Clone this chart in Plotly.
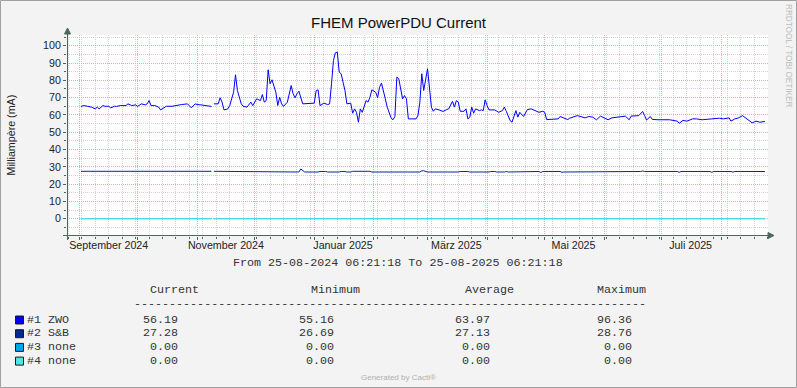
import plotly.graph_objects as go

# ---------------- data ----------------
TITLE = "FHEM PowerPDU Current"
Y_TITLE = "Milliampère (mA)"
X_START = "2024-08-25 06:21:18"
X_END = "2025-08-25 06:21:18"
PERIOD_TEXT = "From 25-08-2024 06:21:18 To 25-08-2025 06:21:18"

month_label_dates = ["2024-09-16", "2024-11-16", "2025-01-16", "2025-03-16", "2025-05-16", "2025-07-16"]
month_labels = ["September 2024", "November 2024", "Januar 2025", "März 2025", "Mai 2025", "Juli 2025"]
y_ticks = [0, 10, 20, 30, 40, 50, 60, 70, 80, 90, 100]
y_minor = [-5, 5, 15, 25, 35, 45, 55, 65, 75, 85, 95, 105]

zwo_dates = [
    "2024-09-01 12:00", "2024-09-03", "2024-09-05", "2024-09-07", "2024-09-09", "2024-09-10", "2024-09-11",
    "2024-09-13", "2024-09-14", "2024-09-16", "2024-09-17", "2024-09-19", "2024-09-20", "2024-09-22",
    "2024-09-25", "2024-09-26", "2024-09-28", "2024-09-30",
    "2024-10-01", "2024-10-03", "2024-10-05", "2024-10-06", "2024-10-07", "2024-10-08", "2024-10-10",
    "2024-10-12", "2024-10-13", "2024-10-15", "2024-10-16", "2024-10-19", "2024-10-22", "2024-10-24",
    "2024-10-27", "2024-10-28", "2024-10-29", "2024-10-31",
    "2024-11-01", "2024-11-03", "2024-11-05", "2024-11-08 12:00", "2024-11-09 06:00", "2024-11-09 18:00",
    "2024-11-12", "2024-11-13", "2024-11-14", "2024-11-15", "2024-11-17", "2024-11-18", "2024-11-19",
    "2024-11-20", "2024-11-21", "2024-11-22", "2024-11-24", "2024-11-25", "2024-11-27", "2024-11-29",
    "2024-11-30",
    "2024-12-02", "2024-12-04", "2024-12-05", "2024-12-06", "2024-12-07", "2024-12-08", "2024-12-09",
    "2024-12-10", "2024-12-12", "2024-12-13", "2024-12-14", "2024-12-15", "2024-12-16", "2024-12-18",
    "2024-12-20", "2024-12-21", "2024-12-22", "2024-12-23", "2024-12-24", "2024-12-26", "2024-12-29",
    "2025-01-01", "2025-01-02", "2025-01-03", "2025-01-04", "2025-01-06", "2025-01-08", "2025-01-09",
    "2025-01-10", "2025-01-11", "2025-01-12", "2025-01-13", "2025-01-14", "2025-01-15", "2025-01-16",
    "2025-01-17", "2025-01-18", "2025-01-20", "2025-01-21", "2025-01-22", "2025-01-23", "2025-01-24",
    "2025-01-25", "2025-01-26", "2025-01-28", "2025-01-29", "2025-01-30", "2025-01-31",
    "2025-02-02", "2025-02-03", "2025-02-04", "2025-02-05", "2025-02-07", "2025-02-08", "2025-02-10",
    "2025-02-11", "2025-02-12", "2025-02-13", "2025-02-14", "2025-02-15", "2025-02-16", "2025-02-17",
    "2025-02-18", "2025-02-19", "2025-02-23", "2025-02-24", "2025-02-25", "2025-02-26", "2025-02-27",
    "2025-03-01", "2025-03-02", "2025-03-03", "2025-03-04", "2025-03-05", "2025-03-07", "2025-03-09",
    "2025-03-11", "2025-03-12", "2025-03-14", "2025-03-15", "2025-03-16", "2025-03-17", "2025-03-18",
    "2025-03-20", "2025-03-21", "2025-03-22", "2025-03-23", "2025-03-24", "2025-03-25", "2025-03-26",
    "2025-03-28", "2025-03-29", "2025-03-30", "2025-03-31",
    "2025-04-01", "2025-04-02", "2025-04-05", "2025-04-07", "2025-04-09", "2025-04-10", "2025-04-11",
    "2025-04-13", "2025-04-14", "2025-04-15", "2025-04-16", "2025-04-17", "2025-04-18", "2025-04-20",
    "2025-04-21", "2025-04-22", "2025-04-24", "2025-04-25", "2025-04-26", "2025-04-28", "2025-04-30",
    "2025-05-01", "2025-05-02", "2025-05-05", "2025-05-08", "2025-05-09", "2025-05-11", "2025-05-13",
    "2025-05-14", "2025-05-16", "2025-05-18", "2025-05-22", "2025-05-24", "2025-05-26", "2025-05-28",
    "2025-05-30",
    "2025-06-01", "2025-06-03", "2025-06-05", "2025-06-08", "2025-06-12", "2025-06-14", "2025-06-15",
    "2025-06-19", "2025-06-21", "2025-06-22", "2025-06-23", "2025-06-25", "2025-06-26", "2025-06-29",
    "2025-07-05", "2025-07-09", "2025-07-10", "2025-07-12", "2025-07-14", "2025-07-17", "2025-07-19",
    "2025-07-22", "2025-07-25", "2025-07-27", "2025-07-31",
    "2025-08-02", "2025-08-05", "2025-08-06", "2025-08-08", "2025-08-10", "2025-08-12", "2025-08-14",
    "2025-08-16", "2025-08-17", "2025-08-19", "2025-08-21", "2025-08-23 16:00",
]
zwo_values = [
    64.9, 65.4, 65.0, 64.5, 63.5, 64.5, 63.5,
    65.4, 65.0, 65.0, 64.1, 65.0, 64.9, 65.4,
    65.4, 66.4, 65.4, 65.8,
    64.9, 66.4, 65.8, 66.4, 68.3, 65.4, 65.4,
    64.5, 62.9, 64.5, 65.0, 65.0, 65.8, 66.0,
    66.4, 65.0, 64.1, 66.4,
    66.0, 65.8, 65.4, 64.9, None, 66.4,
    66.4, 69.9, 67.4, 62.9, 63.5, 65.4, 70.2,
    73.1, 83.2, 74.1, 66.4, 65.0, 64.5, 67.4,
    65.4,
    69.3, 68.3, 71.8, 67.4, 68.3, 86.1, 78.0,
    80.3, 73.1, 65.4, 70.2, 66.4, 64.9, 67.4,
    77.0, 72.2, 69.9, 72.2, 73.7, 66.4, 66.4,
    66.8, 74.1, 74.5, 65.4, 66.8, 66.0, 66.4,
    78.0, 91.5, 95.9, 96.36, 84.7, 83.8, 78.9,
    74.1, 66.4, 66.8, 61.0, 63.5, 61.5, 55.8,
    63.5, 61.5, 68.3, 67.4, 70.2, 74.5,
    73.1, 69.9, 76.0, 78.4, 69.3, 64.5, 58.3,
    57.2, 59.1, 81.8, 80.9, 75.1, 69.3, 71.2,
    69.3, 57.7, 57.7, 59.6, 67.4, 83.8, 74.1,
    86.7, 73.1, 64.5, 62.1, 63.5, 62.9, 62.0,
    63.1, 63.5, 67.9, 64.5, 68.3, 67.4, 62.1,
    62.1, 63.5, 57.7, 58.7, 64.5, 61.0, 63.5,
    62.5, 62.9, 62.5, 68.7,
    65.4, 62.9, 62.9, 61.5, 62.5, 64.5, 62.1,
    56.7, 55.8, 58.7, 62.5, 58.7, 61.5, 59.1,
    61.5, 63.1, 63.5, 62.9, 62.5, 61.5, 62.1,
    61.5, 57.3, 57.7, 57.7, 59.1, 58.3, 57.3,
    58.1, 58.7, 59.6, 58.3, 59.1, 58.7, 57.2,
    59.3,
    58.3, 57.2, 58.3, 58.7, 59.3, 57.2, 59.3,
    59.6, 62.0, 59.6, 57.0, 59.1, 57.4, 57.2,
    57.2, 56.4, 55.16, 56.8, 56.4, 57.7, 57.7,
    57.2, 57.7, 57.7, 58.1,
    57.7, 58.3, 56.4, 57.7, 58.3, 59.6, 57.7,
    55.8, 55.4, 56.4, 55.8, 56.19,
]

sb_dates = [
    "2024-09-01 12:00", "2024-09-07", "2024-09-08", "2024-09-13", "2024-09-14", "2024-09-17", "2024-09-18",
    "2024-09-21", "2024-09-22", "2024-09-26", "2024-09-27", "2024-09-29", "2024-09-30", "2024-10-08",
    "2024-10-09", "2024-10-12", "2024-10-13", "2024-10-15", "2024-10-16", "2024-10-18", "2024-10-19",
    "2024-11-08 12:00", "2024-11-09 06:00", "2024-11-09 18:00", "2024-11-14", "2024-11-15", "2024-11-22",
    "2024-11-23", "2024-11-26", "2024-11-27", "2024-11-29", "2024-11-30", "2024-12-03", "2024-12-04",
    "2024-12-10", "2024-12-11", "2024-12-14", "2024-12-15", "2024-12-24", "2024-12-25", "2024-12-27",
    "2025-01-03", "2025-01-04", "2025-01-07", "2025-01-08", "2025-01-14", "2025-01-15", "2025-01-17",
    "2025-01-18", "2025-01-20", "2025-01-21", "2025-01-30", "2025-01-31", "2025-02-25", "2025-02-26",
    "2025-02-27", "2025-03-01", "2025-03-17", "2025-03-18", "2025-03-22", "2025-03-23", "2025-04-02",
    "2025-04-03", "2025-04-05", "2025-04-06", "2025-04-10", "2025-04-11", "2025-04-12", "2025-04-15",
    "2025-04-16", "2025-04-28", "2025-04-29", "2025-04-30", "2025-05-09", "2025-05-10", "2025-05-11",
    "2025-05-15", "2025-05-16", "2025-06-20", "2025-06-21", "2025-06-22", "2025-07-09", "2025-07-10",
    "2025-07-11", "2025-07-26", "2025-07-27", "2025-07-28", "2025-08-06", "2025-08-07", "2025-08-08",
    "2025-08-23 16:00",
]
sb_values = [
    27.4, 27.4, 27.0, 27.0, 27.3, 27.3, 27.0,
    27.0, 27.3, 27.3, 27.0, 27.0, 27.4, 27.4,
    27.0, 27.0, 27.3, 27.3, 27.0, 27.0, 27.4,
    27.4, None, 27.4, 27.4, 27.0, 27.0,
    27.3, 27.3, 27.0, 27.0, 27.3, 27.3, 27.0,
    27.0, 27.3, 27.3, 27.0, 27.0, 28.76, 27.0,
    27.0, 27.3, 27.3, 27.0, 27.0, 27.3, 27.3,
    27.0, 27.0, 27.4, 27.4, 27.0, 27.0, 27.7,
    27.7, 27.0, 27.0, 27.3, 27.3, 27.0, 27.0,
    27.3, 27.3, 27.0, 27.0, 27.3, 27.0, 27.0,
    27.3, 27.3, 26.69, 27.3, 27.3, 26.8, 27.0,
    27.0, 27.3, 27.3, 27.6, 27.3, 27.3, 26.8,
    27.3, 27.3, 26.8, 27.3, 27.3, 26.9, 27.3,
    27.28,
]

none_dates = ["2024-09-01 12:00", "2024-11-08 12:00", "2024-11-09 06:00", "2024-11-09 18:00", "2025-08-23 16:00"]
none3_values = [0.0, 0.0, None, 0.0, 0.0]
none4_values = [0.0, 0.0, None, 0.0, 0.0]

legend_names = ["#1 ZWO", "#2 S&B", "#3 none", "#4 none"]
legend_colors = ["#0000FF", "#002A97", "#00A6F0", "#4FE6E6"]
stat_headers = ["Current", "Minimum", "Average", "Maximum"]
stat_current = [56.19, 27.28, 0.00, 0.00]
stat_minimum = [55.16, 26.69, 0.00, 0.00]
stat_average = [63.97, 27.13, 0.00, 0.00]
stat_maximum = [96.36, 28.76, 0.00, 0.00]

# ---------------- geometry / style ----------------
W, H = 797, 388
PL, PR, PT, PB = 67, 768, 35, 236


def px(x):
    return (x - PL) / (PR - PL)


def py(y):
    return (PB - y) / (PB - PT)


BG = "#F3F3F3"
AXC = "#4D6659"
MAJ = "#EFA8A8"
MIN = "#D2D2D2"
TXT = "#222222"
LEG = "#333333"
SANS = "Liberation Sans"
MONO = "Liberation Mono"
DOT = "1px,1px"
MONO_SIZE = 11.7

fig = go.Figure()
series = [
    (zwo_dates, zwo_values, legend_colors[0], "x"),
    (sb_dates, sb_values, legend_colors[1], "x"),
    (none_dates, none3_values, legend_colors[2], "x"),
    (none_dates, none4_values, legend_colors[3], "x2"),
]
for xs, ys, col, xa in series:
    fig.add_trace(go.Scatter(x=xs, y=ys, mode="lines", line=dict(color=col, width=1), xaxis=xa,
                             connectgaps=False, hoverinfo="skip", showlegend=False))

shapes = []
# canvas border
shapes.append(dict(type="rect", xref="paper", yref="paper", x0=px(0.5), x1=px(W - 0.5),
                   y0=py(0.5), y1=py(H - 0.5), line=dict(color="#A0A0A0", width=1), layer="below"))
# axes with arrows
shapes.append(dict(type="line", xref="paper", yref="paper", x0=px(67.5), x1=px(67.5),
                   y0=py(240), y1=py(32), line=dict(color=AXC, width=1)))
shapes.append(dict(type="path", xref="paper", yref="paper",
                   path=f"M {px(64.5)} {py(34)} L {px(67.5)} {py(28)} L {px(70.5)} {py(34)} Z",
                   fillcolor=AXC, line=dict(color=AXC, width=1)))
shapes.append(dict(type="line", xref="paper", yref="paper", x0=px(63), x1=px(770),
                   y0=py(235.5), y1=py(235.5), line=dict(color=AXC, width=1)))
shapes.append(dict(type="path", xref="paper", yref="paper",
                   path=f"M {px(768)} {py(232.5)} L {px(774)} {py(235.5)} L {px(768)} {py(238.5)} Z",
                   fillcolor=AXC, line=dict(color=AXC, width=1)))

ann = []
ann.append(dict(text=TITLE, x=px(398.5), y=py(22.8), xref="paper", yref="paper", showarrow=False,
                xanchor="center", yanchor="middle", font=dict(family=SANS, size=15, color="#111111")))
ann.append(dict(text=Y_TITLE, x=px(10.5), y=py(135), xref="paper", yref="paper", showarrow=False,
                textangle=-90, xanchor="center", yanchor="middle", font=dict(family=SANS, size=10.7, color=TXT)))
ann.append(dict(text="RRDTOOL / TOBI OETIKER", x=px(788), y=py(56), xref="paper", yref="paper",
                showarrow=False, textangle=90, xanchor="center", yanchor="middle",
                font=dict(family=SANS, size=8.2, color="#BDBDBD")))
ann.append(dict(text=PERIOD_TEXT, x=px(398), y=py(263), xref="paper", yref="paper", showarrow=False,
                xanchor="center", yanchor="middle", font=dict(family=MONO, size=MONO_SIZE, color=LEG)))
ann.append(dict(text="Generated by Cacti®", x=px(398), y=py(377.5), xref="paper", yref="paper",
                showarrow=False, xanchor="center", yanchor="middle",
                font=dict(family=SANS, size=8, color="#B0B0B0")))

mono = dict(family=MONO, size=MONO_SIZE, color=LEG)
header_left = [149, 310, 464, 596.5]
for hx, htxt in zip(header_left, stat_headers):
    ann.append(dict(text=htxt, x=px(hx - 0.5), y=py(289.8), xref="paper", yref="paper", showarrow=False,
                    xanchor="left", yanchor="middle", font=mono, borderpad=0))
ann.append(dict(text="-" * 73, x=px(390), y=py(304), xref="paper", yref="paper", showarrow=False,
                xanchor="center", yanchor="middle", font=mono, borderpad=0))

value_right = [179, 335, 491, 633]
row_y0, row_step = 319.5, 13.7
for i, name in enumerate(legend_names):
    ry = row_y0 + row_step * i
    shapes.append(dict(type="rect", xref="paper", yref="paper", x0=px(15.5), x1=px(23.5),
                       y0=py(ry - 3.5), y1=py(ry + 4.5), fillcolor=legend_colors[i],
                       line=dict(color="#1A1A1A", width=1)))
    ann.append(dict(text=name, x=px(26), y=py(ry), xref="paper", yref="paper", showarrow=False,
                    xanchor="left", yanchor="middle", font=mono, borderpad=0))
    for col, vals in enumerate([stat_current, stat_minimum, stat_average, stat_maximum]):
        ann.append(dict(text=f"{vals[i]:.2f}", x=px(value_right[col]), y=py(ry), xref="paper", yref="paper",
                        showarrow=False, xanchor="right", yanchor="middle", font=mono, borderpad=0))

fig.update_layout(
    width=W, height=H,
    margin=dict(l=PL, r=W - PR, t=PT, b=H - PB, pad=0),
    paper_bgcolor=BG, plot_bgcolor="#FFFFFF",
    font=dict(family=SANS, size=10.7, color=TXT),
    showlegend=False,
    shapes=shapes,
    annotations=ann,
    xaxis=dict(
        type="date", range=[X_START, X_END], tick0="2024-09-01", dtick="M1",
        showgrid=True, gridcolor=MAJ, griddash=DOT, gridwidth=1,
        showticklabels=False, ticks="outside", ticklen=3, tickcolor=AXC,
        showline=False, zeroline=False, fixedrange=True,
        minor=dict(tick0="2024-09-02", dtick=7 * 86400000, showgrid=True, gridcolor=MIN,
                   griddash=DOT, gridwidth=1, ticks="outside", ticklen=2, tickcolor=AXC),
    ),
    xaxis2=dict(
        type="date", range=[X_START, X_END], overlaying="x", anchor="y", side="bottom",
        tickmode="array", tickvals=month_label_dates, ticktext=month_labels,
        showgrid=False, zeroline=False, showline=False, ticks="", ticklabelstandoff=1,
        tickfont=dict(family=SANS, size=10.7, color=TXT), fixedrange=True,
    ),
    yaxis=dict(
        range=[-10, 106.2], tickmode="array", tickvals=y_ticks,
        showgrid=True, gridcolor=MAJ, griddash=DOT, gridwidth=1,
        ticks="outside", ticklen=3, tickcolor=AXC,
        tickfont=dict(family=SANS, size=10.7, color=TXT),
        showline=False, zeroline=False, fixedrange=True,
        minor=dict(tickmode="array", tickvals=y_minor, showgrid=True, gridcolor=MIN,
                   griddash=DOT, gridwidth=1, ticks="outside", ticklen=2, tickcolor=AXC),
    ),
)

fig.write_html("out.html", config={"displayModeBar": False, "staticPlot": True},
               post_script="document.body.style.margin='0px';document.body.style.overflow='hidden';")
